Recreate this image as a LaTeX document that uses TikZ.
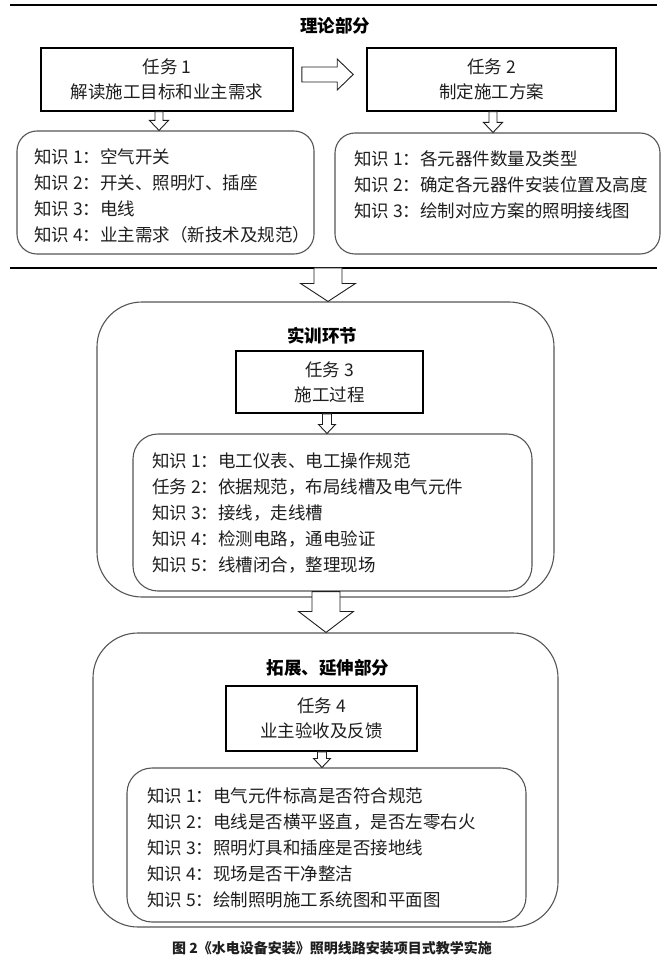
\documentclass[tikz,border=0pt]{standalone}
\usepackage{fontspec}
\setmainfont{Noto Sans CJK SC}
\usepackage{tikz}
\usetikzlibrary{calc,positioning}
\definecolor{framegray}{RGB}{85,85,85}
\definecolor{inkblack}{RGB}{30,30,30}

\newcommand{\hollowdown}[5]{%
  \draw[harrow] let \p1=#1, \p2=#2 in
    (\x1-#3,\y1) -- (\x1+#3,\y1) -- (\x1+#3,\y2+#5) -- (\x1+#4,\y2+#5)
    -- (\x1,\y2) -- (\x1-#4,\y2+#5) -- (\x1-#3,\y2+#5) -- cycle;}

\begin{document}
\begin{tikzpicture}[x=1pt, y=-1pt,
    task/.style={rectangle, draw=black, line width=1.6pt, align=center, text=inkblack,
                 inner sep=0pt, font=\fontsize{17.5}{25}\selectfont},
    know/.style={rectangle, draw=framegray, line width=1.1pt, rounded corners=20pt, inner sep=0pt},
    frame/.style={rectangle, draw=framegray, line width=1.1pt, rounded corners=45pt, inner sep=0pt},
    list/.style={align=left, text=inkblack, inner sep=0pt, font=\fontsize{17.5}{26}\selectfont},
    head/.style={text=black, inner sep=0pt, font=\bfseries\fontsize{17.5}{17.5}\selectfont},
    rule/.style={draw=black, line width=1.5pt},
    harrow/.style={draw=inkblack, fill=white, line width=0.9pt, line join=miter}
]
\useasboundingbox (0,0) rectangle (667,957);

% theory part
\draw[rule] (10,5) -- (657,5);
\node[head] (h0) at (335,26) {理论部分};

\node[task, minimum width=252pt, minimum height=63pt] (t1) at (167,79.5) {任务 1\\解读施工目标和业主需求};
\node[task, minimum width=249pt, minimum height=63pt] (t2) at (491.5,79.5) {任务 2\\制定施工方案};

\node[know, minimum width=297pt, minimum height=123pt] (k1) at (165.5,192.5) {};
\node[know, minimum width=325pt, minimum height=121pt] (k2) at (497.5,193.5) {};
\node[list, anchor=west] (k1t) at (34,195.5) {知识 1：空气开关\\知识 2：开关、照明灯、插座\\知识 3：电线\\知识 4：业主需求（新技术及规范）};
\node[list, anchor=west] (k2t) at (354,185) {知识 1：各元器件数量及类型\\知识 2：确定各元器件安装位置及高度\\知识 3：绘制对应方案的照明接线图};

\draw[harrow] let \p1=($(t1.east)+(8,-5)$), \p2=($(t2.west)+(-13,0)$) in
  (\x1,\y1-7.5pt) -- (\x2-16pt,\y1-7.5pt) -- (\x2-16pt,\y1-15.5pt) -- (\x2,\y1)
  -- (\x2-16pt,\y1+15.5pt) -- (\x2-16pt,\y1+7.5pt) -- (\x1,\y1+7.5pt) -- cycle;
\hollowdown{($(t1.south)+(-8,0)$)}{(k1.north)}{4pt}{9.5pt}{10pt}
\hollowdown{($(t2.south)+(1.5,0)$)}{(k2.north)}{4pt}{9.5pt}{10pt}

\draw[rule, line width=2.6pt] (10,268) -- (657,268);
\coordinate (sep) at (328,268);

% training part
\node[frame, minimum width=457pt, minimum height=295pt] (b1) at (325.5,449.5) {};
\node[head] (h1) at (322,336) {实训环节};
\node[task, minimum width=187pt, minimum height=62pt] (t3) at (329.5,382) {任务 3\\施工过程};
\node[know, rounded corners=25pt, minimum width=399pt, minimum height=157pt] (i1) at (332.5,512.5) {};
\node[list, anchor=west] (i1t) at (152,513.5) {知识 1：电工仪表、电工操作规范\\任务 2：依据规范，布局线槽及电气元件\\知识 3：接线，走线槽\\知识 4：检测电路，通电验证\\知识 5：线槽闭合，整理现场};

\hollowdown{(sep)}{(b1.north)}{14pt}{27.5pt}{18pt}
\hollowdown{($(t3.south)+(-2.5,0)$)}{(i1.north)}{4.5pt}{8.5pt}{9pt}

% extension part
\node[frame, minimum width=465pt, minimum height=294pt] (b2) at (325.5,780) {};
\node[head] (h2) at (328,668) {拓展、延伸部分};
\node[task, minimum width=191pt, minimum height=65pt] (t4) at (321.5,718.5) {任务 4\\业主验收及反馈};
\node[know, rounded corners=25pt, minimum width=399pt, minimum height=154pt] (i2) at (326.5,845) {};
\node[list, anchor=west] (i2t) at (147,847.5) {知识 1：电气元件标高是否符合规范\\知识 2：电线是否横平竖直，是否左零右火\\知识 3：照明灯具和插座是否接地线\\知识 4：现场是否干净整洁\\知识 5：绘制照明施工系统图和平面图};

\hollowdown{($(i1.south)+(-6.5,0)$)}{(b2.north)}{14pt}{27.5pt}{21pt}
\hollowdown{($(t4.south)+(0.5,0)$)}{(i2.north)}{4.5pt}{8.5pt}{9pt}

\node[text=inkblack, inner sep=0pt, font=\bfseries\fontsize{14}{14}\selectfont] (cap) at (332,948) {图 2《水电设备安装》照明线路安装项目式教学实施};

\end{tikzpicture}
\end{document}
